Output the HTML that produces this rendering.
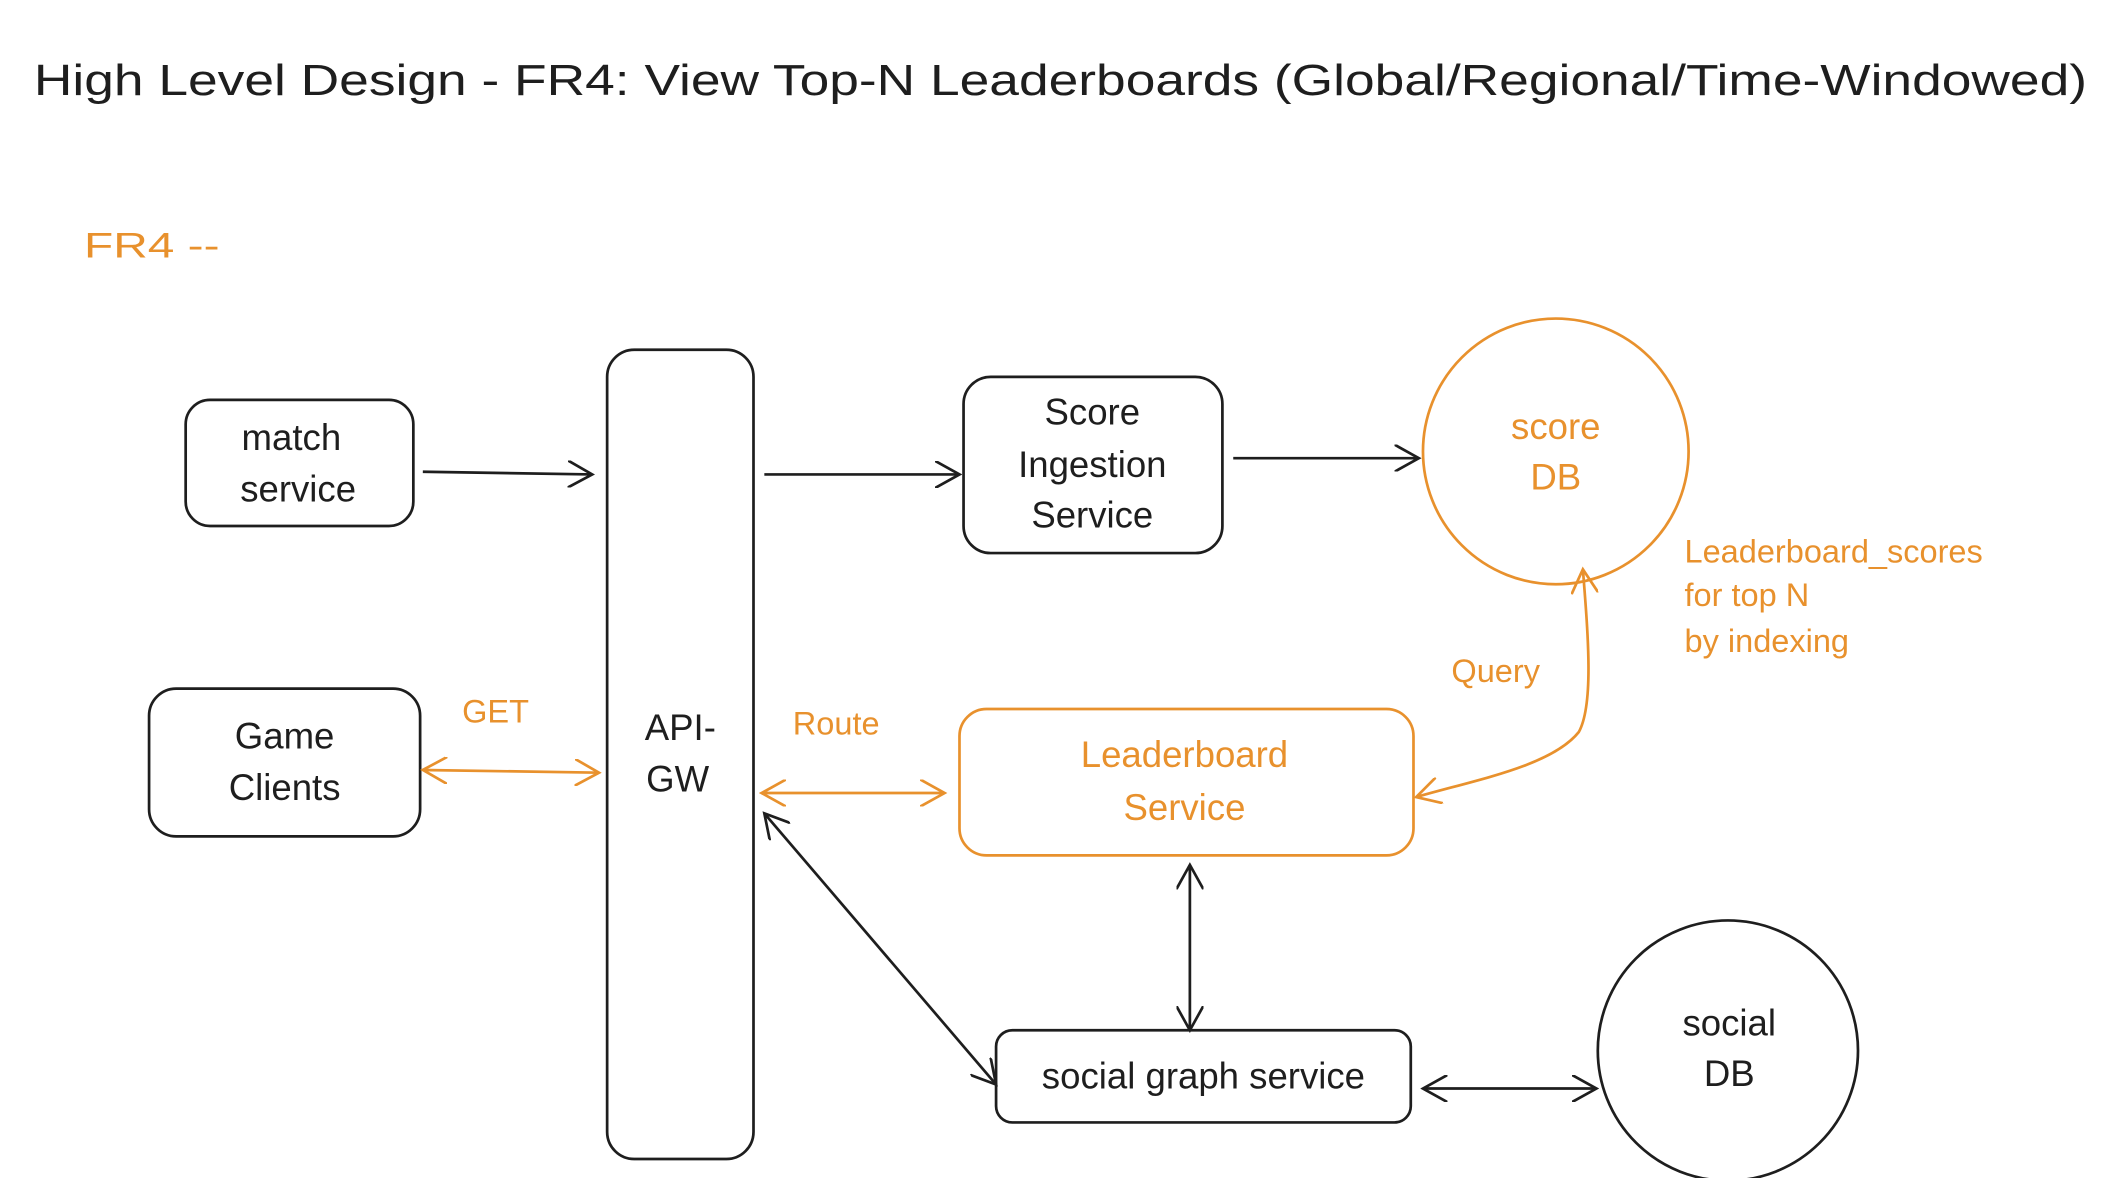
<!DOCTYPE html>
<html><head><meta charset="utf-8"><style>
html,body{margin:0;padding:0;background:#fff;}
svg{display:block;}
text{font-family:"Liberation Sans",sans-serif;}
</style></head><body>
<svg width="2106" height="1178" viewBox="0 0 1554 869" preserveAspectRatio="none" xmlns="http://www.w3.org/2000/svg">
<defs>
<marker id="ab" viewBox="0 0 20 20" refX="18" refY="10" markerWidth="20" markerHeight="20" markerUnits="userSpaceOnUse" orient="auto-start-reverse"><path d="M0,0 L18,10 L0,20" fill="none" stroke="#1e1e1e" stroke-width="2"/></marker>
<marker id="ao" viewBox="0 0 20 20" refX="18" refY="10" markerWidth="20" markerHeight="20" markerUnits="userSpaceOnUse" orient="auto-start-reverse"><path d="M0,0 L18,10 L0,20" fill="none" stroke="#e8912d" stroke-width="2"/></marker>
</defs>
<rect width="1554" height="869" fill="#fff"/>
<text x="25" y="70" font-size="32" fill="#1e1e1e" textLength="1515" lengthAdjust="spacingAndGlyphs">High Level Design - FR4: View Top-N Leaderboards (Global/Regional/Time-Windowed)</text>
<text x="62" y="190" font-size="26" fill="#e8912d" textLength="100" lengthAdjust="spacingAndGlyphs">FR4 --</text>

<g fill="none" stroke="#1e1e1e" stroke-width="2">
<rect x="137" y="295" width="168" height="93" rx="18"/>
<rect x="448" y="258" width="108" height="597" rx="20"/>
<rect x="711" y="278" width="191" height="130" rx="20"/>
<rect x="110" y="508" width="200" height="109" rx="20"/>
<rect x="735" y="760" width="306" height="68" rx="12"/>
<circle cx="1275" cy="775" r="96"/>
</g>
<g fill="none" stroke="#e8912d" stroke-width="2">
<circle cx="1148" cy="333" r="98"/>
<rect x="708" y="523" width="335" height="108" rx="20"/>
</g>

<g font-size="27" fill="#1e1e1e" text-anchor="middle">
<text x="215" y="332">match</text><text x="220" y="370">service</text>
<text x="502" y="546">API-</text><text x="500" y="584">GW</text>
<text x="806" y="313">Score</text><text x="806" y="352">Ingestion</text><text x="806" y="389">Service</text>
<text x="210" y="552">Game</text><text x="210" y="590">Clients</text>
<text x="888" y="803">social graph service</text>
<text x="1276" y="764">social</text><text x="1276" y="801">DB</text>
</g>
<g font-size="27" fill="#e8912d" text-anchor="middle">
<text x="1148" y="324">score</text><text x="1148" y="361">DB</text>
<text x="874" y="566">Leaderboard</text><text x="874" y="605">Service</text>
</g>
<g font-size="24" fill="#e8912d">
<text x="1243" y="415">Leaderboard_scores</text>
<text x="1243" y="447">for top N</text>
<text x="1243" y="481">by indexing</text>
<text x="1071" y="503">Query</text>
<text x="341" y="533">GET</text>
<text x="585" y="542">Route</text>
</g>

<g fill="none" stroke="#1e1e1e" stroke-width="2">
<line x1="312" y1="348" x2="437" y2="350" marker-end="url(#ab)"/>
<line x1="564" y1="350" x2="708" y2="350" marker-end="url(#ab)"/>
<line x1="910" y1="338" x2="1047" y2="338" marker-end="url(#ab)"/>
<line x1="878" y1="638" x2="878" y2="760" marker-start="url(#ab)" marker-end="url(#ab)"/>
<line x1="564" y1="600" x2="735" y2="800" marker-start="url(#ab)" marker-end="url(#ab)"/>
<line x1="1050" y1="803" x2="1178" y2="803" marker-start="url(#ab)" marker-end="url(#ab)"/>
</g>
<g fill="none" stroke="#e8912d" stroke-width="2">
<line x1="312" y1="568" x2="442" y2="570" marker-start="url(#ao)" marker-end="url(#ao)"/>
<line x1="562" y1="585" x2="697" y2="585" marker-start="url(#ao)" marker-end="url(#ao)"/>
<path d="M1168,420 C1172,470 1176,520 1165,540 C1145,565 1090,575 1045,588" marker-start="url(#ao)" marker-end="url(#ao)"/>
</g>
</svg>
</body></html>
